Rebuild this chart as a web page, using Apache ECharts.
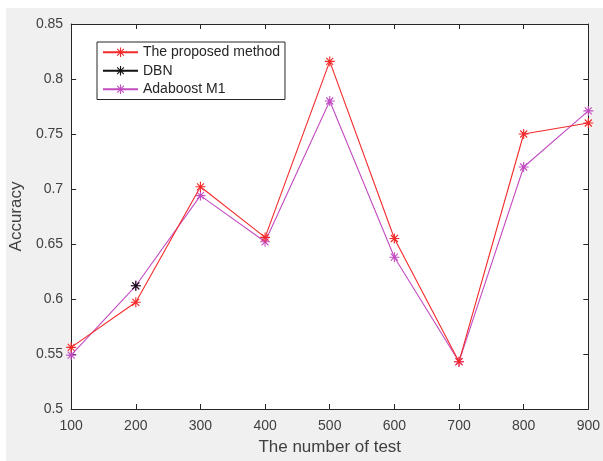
<!DOCTYPE html>
<html>
<head>
<meta charset="utf-8">
<script src="https://cdn.jsdelivr.net/npm/echarts@6/dist/echarts.min.js"></script>
<style>
html,body{margin:0;padding:0;background:#fff;}
#bg{position:absolute;left:6px;top:8px;width:597px;height:453px;background:#f0f0f0;}
#chart{position:absolute;left:0;top:0;width:603px;height:461px;}
</style>
</head>
<body>
<div id="bg"></div>
<div id="chart"></div>
<script>
const categories = [100, 200, 300, 400, 500, 600, 700, 800, 900];
const proposed = [0.556, 0.597, 0.702, 0.656, 0.816, 0.655, 0.543, 0.750, 0.760];
const dbn = [null, 0.612, null, null, null, null, null, null, null];
const adaboost = [0.549, 0.612, 0.694, 0.652, 0.780, 0.638, 0.543, 0.720, 0.771];
const xTicks = [100, 200, 300, 400, 500, 600, 700, 800, 900];
const yTicks = [0.5, 0.55, 0.6, 0.65, 0.7, 0.75, 0.8, 0.85];

const star = 'path://M5,0L5,10M0,5L10,5M1.5,1.5L8.5,8.5M1.5,8.5L8.5,1.5';
const txt = '#404040';
const font = 'Liberation Sans, Arial, sans-serif';

function pairs(vals) { return categories.map((c, i) => [c, vals[i]]); }

function series(name, vals, color, z) {
  return {
    name: name, type: 'line', data: pairs(vals), z: z,
    symbol: star, symbolSize: 10, showAllSymbol: true,
    connectNulls: false,
    itemStyle: { color: 'rgba(0,0,0,0)', borderColor: color, borderWidth: 1.1 },
    lineStyle: { color: color, width: 1.1 },
    emphasis: { disabled: true }, animation: false
  };
}

const chart = echarts.init(document.getElementById('chart'), null, { renderer: 'canvas' });
const axisLine = { show: true, lineStyle: { color: '#262626', width: 1 } };
chart.setOption({
  backgroundColor: 'transparent',
  animation: false,
  grid: { left: 70, top: 24, right: 13, bottom: 48, show: true, backgroundColor: '#fff', borderWidth: 0 },
  legend: {
    left: 97, top: 42, orient: 'vertical',
    backgroundColor: '#fff', borderColor: '#262626', borderWidth: 1,
    padding: [3, 5, 3, 5], itemGap: 4, itemWidth: 35, itemHeight: 12,
    itemStyle: { color: 'rgba(0,0,0,0)', borderColor: 'inherit', borderWidth: 1.1 },
    textStyle: { fontSize: 14, color: '#262626', fontFamily: font, lineHeight: 14.5 },
    data: ['The proposed method', 'DBN', 'Adaboost M1']
  },
  xAxis: [{
    type: 'value', min: 100, max: 900, interval: 100,
    name: 'The number of test', nameLocation: 'middle', nameGap: 30,
    nameTextStyle: { fontSize: 17, color: txt, fontFamily: font },
    axisLine: axisLine, splitLine: { show: false },
    axisTick: { inside: true, length: 5, lineStyle: { color: '#262626' } },
    axisLabel: { fontSize: 14, color: txt, fontFamily: font, margin: 10,
      formatter: v => xTicks.includes(v) ? String(v) : '' }
  }, {
    type: 'value', position: 'top', min: 100, max: 900, interval: 100,
    axisLine: axisLine, splitLine: { show: false },
    axisTick: { inside: true, length: 5, lineStyle: { color: '#262626' } },
    axisLabel: { show: false }
  }],
  yAxis: [{
    type: 'value', min: 0.5, max: 0.85, interval: 0.05,
    name: 'Accuracy', nameLocation: 'middle', nameGap: 45,
    nameTextStyle: { fontSize: 17, color: txt, fontFamily: font },
    axisLine: axisLine, splitLine: { show: false },
    axisTick: { inside: true, length: 5, lineStyle: { color: '#262626' } },
    axisLabel: { fontSize: 14, color: txt, fontFamily: font, margin: 8,
      formatter: v => { const r = Math.round(v * 100) / 100; return yTicks.includes(r) ? String(r) : ''; } }
  }, {
    type: 'value', position: 'right', min: 0.5, max: 0.85, interval: 0.05,
    axisLine: axisLine, splitLine: { show: false },
    axisTick: { inside: true, length: 5, lineStyle: { color: '#262626' } },
    axisLabel: { show: false }
  }],
  series: [
    series('The proposed method', proposed, '#f42a2a', 5),
    series('DBN', dbn, '#111111', 6),
    series('Adaboost M1', adaboost, '#c24cc2', 4)
  ]
});
</script>
</body>
</html>
